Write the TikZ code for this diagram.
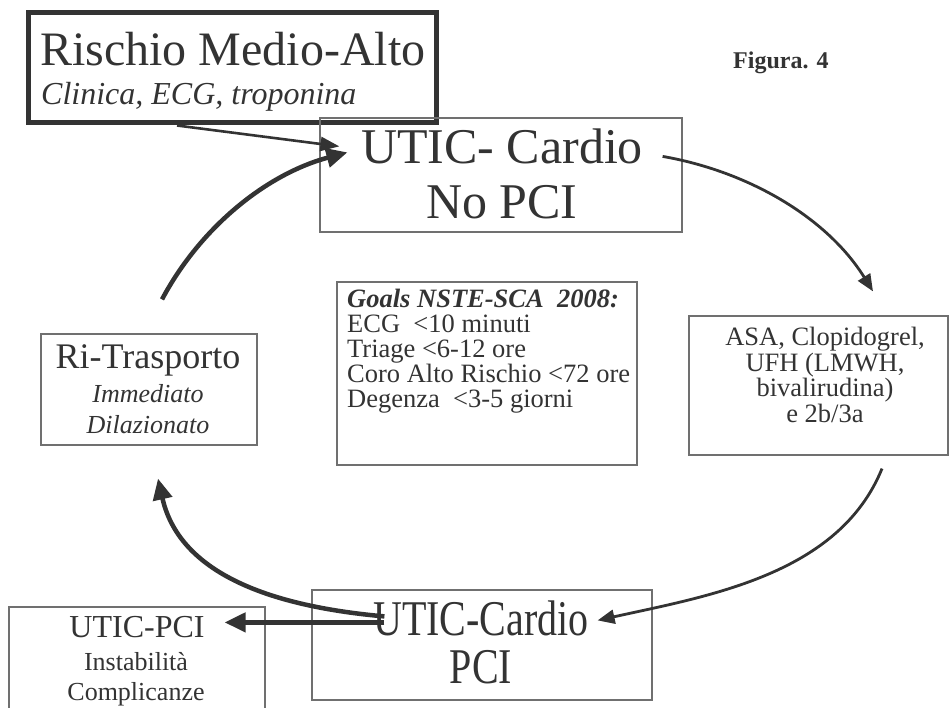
\documentclass[tikz,border=0pt]{standalone}
\usepackage{fontspec}
\setmainfont{Liberation Serif}
\newfontfamily\narrowserif[FakeStretch=0.8]{Liberation Serif}
\usetikzlibrary{arrows.meta}
\definecolor{ink}{RGB}{51,51,51}
\definecolor{boxgray}{RGB}{112,112,112}

\begin{document}
\begin{tikzpicture}[x=1pt,y=-1pt,
  box/.style={draw=boxgray, line width=1.2pt, inner sep=0pt},
  heavybox/.style={draw=ink, line width=5pt, inner sep=0pt},
  txt/.style={text=ink, inner sep=0pt},
  heavylink/.style={draw=ink, line width=4.5pt, -{Triangle[length=21pt,width=19pt]}},
  midlink/.style={draw=ink, line width=2.8pt, -{Triangle[length=17pt,width=14pt]}},
  thinlink/.style={draw=ink, line width=2.6pt, -{Triangle[length=19pt,width=14pt]}}]
\useasboundingbox (0,0) rectangle (950,708);
\clip (0,0) rectangle (950,708);

\node[heavybox, minimum width=408pt, minimum height=110pt] (rischio) at (232,68) {};
\node[box, minimum width=362pt, minimum height=114pt] (nopci) at (501,175) {};
\node[box, minimum width=300pt, minimum height=183pt] (goals) at (487,373.5) {};
\node[box, minimum width=259pt, minimum height=139pt] (asa) at (818.5,385.5) {};
\node[box, minimum width=216pt, minimum height=111pt] (ritrasp) at (149,389.5) {};
\node[box, minimum width=256pt, minimum height=153pt] (uticpci) at (137,683.5) {};
\node[box, minimum width=340pt, minimum height=110pt] (pci) at (482,645) {};

\node[txt, anchor=base west, font=\fontsize{48}{55}\selectfont] (rischiotitle) at (40,66) {Rischio Medio-Alto};
\node[txt, anchor=base west, font=\fontsize{32}{38}\selectfont\itshape] (rischiosub) at (41,105) {Clinica, ECG, troponina};
\node[txt, anchor=base west, font=\fontsize{24}{28}\selectfont\bfseries] (figura) at (733,69) {Figura. 4};

\node[txt, align=center, anchor=north, font=\fontsize{50}{55}\selectfont] (nopcitext) at (502,129) {UTIC- Cardio\\No PCI};
\node[txt, align=left, anchor=north west, font=\fontsize{26.5}{25}\selectfont] (goalstext) at (347,289)
  {\textbf{\textit{Goals NSTE-SCA~ 2008:}}\\ECG~ <10 minuti\\Triage <6-12 ore\\Coro Alto Rischio <72 ore\\Degenza~ <3-5 giorni};
\node[txt, align=center, anchor=north, font=\fontsize{26.5}{25.5}\selectfont] (asatext) at (825,327)
  {ASA, Clopidogrel,\\UFH (LMWH,\\bivalirudina)\\e 2b/3a};
\node[txt, anchor=base, font=\fontsize{36}{40}\selectfont] (ritrasptitle) at (148,368) {Ri-Trasporto};
\node[txt, align=center, anchor=north, font=\fontsize{26}{31}\selectfont\itshape] (ritraspsub) at (148,384) {Immediato\\Dilazionato};
\node[txt, anchor=base, font=\fontsize{32}{36}\selectfont] (uticpcititle) at (137,637) {UTIC-PCI};
\node[txt, align=center, anchor=north, font=\fontsize{26}{30}\selectfont] (uticpcisub) at (136,652) {Instabilità\\Complicanze};
\node[txt, align=center, anchor=north, font=\narrowserif\fontsize{50}{48}\selectfont] (pcitext) at (481,601) {UTIC-Cardio\\PCI};

\draw[thinlink] ([xshift=-55pt]rischio.south) -- ([xshift=20pt,yshift=-29pt]nopci.north west);
\draw[heavylink] ([xshift=13pt,yshift=34pt]ritrasp.north) .. controls +(38.8,-72.9) and +(-80,21.4) .. ([xshift=28pt,yshift=-35pt]nopci.north west);
\draw[midlink] ([xshift=-20pt,yshift=-39pt]nopci.north east) .. controls +(85.7,15) and +(-46,-74) .. ([xshift=54.5pt,yshift=24pt]asa.north);
\draw[midlink] ([xshift=63.5pt,yshift=-13pt]asa.south) .. controls +(-43,106) and +(111,-24.5) .. ([xshift=-55pt,yshift=-31pt]pci.north east);
\draw[heavylink] ([xshift=73pt,yshift=-27pt]pci.north west) .. controls +(-102,-9) and +(22.6,100) .. ([xshift=9pt,yshift=-33pt]ritrasp.south);
\draw[heavylink] ([xshift=73pt,yshift=-33pt]pci.north west) -- ([xshift=-41pt,yshift=-16pt]uticpci.north east);

\end{tikzpicture}
\end{document}
